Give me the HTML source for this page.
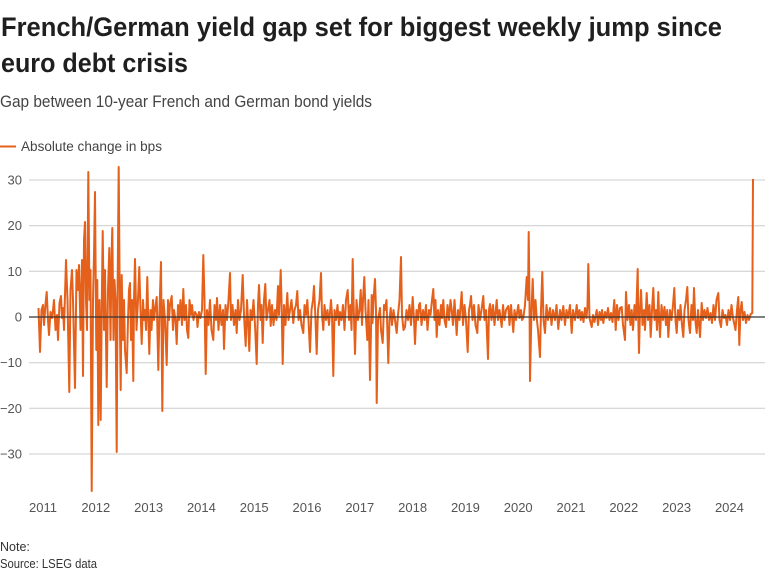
<!DOCTYPE html>
<html>
<head>
<meta charset="utf-8">
<style>
html,body{margin:0;padding:0;background:#fff;}
body{width:765px;height:575px;overflow:hidden;}
svg{display:block;}
text{font-family:"Liberation Sans",sans-serif;}
</style>
</head>
<body>
<svg width="765" height="575" viewBox="0 0 765 575" xmlns="http://www.w3.org/2000/svg">
<rect width="765" height="575" fill="#fff"/>
<text x="1" y="36" font-size="27" font-weight="bold" fill="#1f1f1f" textLength="721" lengthAdjust="spacingAndGlyphs">French/German yield gap set for biggest weekly jump since</text>
<text x="1" y="72" font-size="27" font-weight="bold" fill="#1f1f1f" textLength="187" lengthAdjust="spacingAndGlyphs">euro debt crisis</text>
<text x="0" y="107" font-size="16.5" fill="#444" textLength="372" lengthAdjust="spacingAndGlyphs">Gap between 10-year French and German bond yields</text>
<line x1="0" y1="146.5" x2="16" y2="146.5" stroke="#e5601a" stroke-width="2"/>
<text x="21" y="151" font-size="13.5" fill="#444" textLength="141" lengthAdjust="spacingAndGlyphs">Absolute change in bps</text>

<g stroke="#cccccc" stroke-width="1">
<line x1="29" y1="180" x2="765" y2="180"/>
<line x1="29" y1="225.7" x2="765" y2="225.7"/>
<line x1="29" y1="271.3" x2="765" y2="271.3"/>
<line x1="29" y1="362.7" x2="765" y2="362.7"/>
<line x1="29" y1="408.3" x2="765" y2="408.3"/>
<line x1="29" y1="454" x2="765" y2="454"/>
</g>
<g font-size="13" fill="#555" text-anchor="end">
<text x="22" y="184.5">30</text>
<text x="22" y="230.2">20</text>
<text x="22" y="275.8">10</text>
<text x="22" y="321.5">0</text>
<text x="22" y="367.2">−10</text>
<text x="22" y="412.8">−20</text>
<text x="22" y="458.5">−30</text>
</g>
<g font-size="13" fill="#555" text-anchor="middle">
<text x="43" y="512">2011</text>
<text x="95.8" y="512">2012</text>
<text x="148.6" y="512">2013</text>
<text x="201.4" y="512">2014</text>
<text x="254.2" y="512">2015</text>
<text x="307" y="512">2016</text>
<text x="359.8" y="512">2017</text>
<text x="412.6" y="512">2018</text>
<text x="465.4" y="512">2019</text>
<text x="518.2" y="512">2020</text>
<text x="571" y="512">2021</text>
<text x="623.8" y="512">2022</text>
<text x="676.6" y="512">2023</text>
<text x="729.4" y="512">2024</text>
</g>

<polyline fill="none" stroke="#e5601a" stroke-width="2" stroke-linejoin="round" points="
38.5,308 40,352 41.5,310 43,305 44,325 45.5,304 46.7,292 48,320 49,335 50.5,312 52,318 53,310 54,300 55.5,330 57,315 58,340 59.5,303 61,296 62,318 63,308 64,330 66,260 67.5,300 69.3,392 70.5,290 72,270 73,300 75,388 76.5,270 78,290 79,265 80.5,330 82,260 83,376 84,240 85,222 86,300 87,330 88.3,172 89.5,300 90.5,270 91.7,491 93,300 94,255 95,192 96.3,350 97.3,280 98.3,425 99.5,300 100.7,420 101.7,310 102.7,231 104,330 105,270 106.7,387 108,290 109.3,248 110.5,340 111.5,260 112.3,228 113.5,340 114.5,280 115.5,300 116.7,452 117.5,300 118.7,167 120,330 120.7,390 121.7,275 123,340 124,300 125,350 126.7,373 128,320 129,290 130,283 131,340 132,300 133.3,381 134,300 135,259 136.5,330 138,300 139.3,267 140.5,310 141.7,344 143,300 144,320 145,310 146,330 147.3,277 148.3,320 149.3,354 150.5,310 151.5,330 153,300 154,320 155,310 156.7,297 158.3,370 159.5,310 161,262 162.3,411 163.5,300 165,320 166.7,365 168,300 169,320 170,305 171.7,296 173,330 174,310 175.5,320 176.7,344 178,305 179,320 180.5,300 182,325 183.3,289 184.5,320 186,305 187,330 188.3,338 189.5,300 191,315 192,305 193.5,320 195,312 196.7,315 197.5,327 199,312 200.5,318 202,310 203.3,255 204.5,300 205.7,374
207,310 208.5,325 210,300 211.5,330 213.3,340 214.5,305 216,320 217,298 218.5,330 220,305 221.5,325 223,310 224,349 225.5,305 227,320 228.5,300 230,273 231,320 232.5,305 234,325 235.5,310 236.7,333 238,300 239.5,320 241,310 242.7,275 244,315 245.7,346 247,300 248,320 249.3,351 250.5,310 252,320 253.5,300 255,325 256.7,364 258,305 259,285 260.5,320 261.5,305 262.7,343 264,300 265.3,284 266.5,320 268,310 269.5,300 270.7,326 272,305 273.5,325 275,310 276.5,320 278,286 279,315 280.7,270 281.5,300 282.7,364 284,305 285.5,325 287.3,293 288.5,320 290,310 291.5,300 293.3,323 294.5,310 296,305 297.3,291 298.5,320 300,310 301.5,325 303.3,333 304.5,305 306,315 307.3,300 308.5,320 310,352 311.5,310 313,300 314,286 315.5,320 316.7,354 318,310 319.5,300 321,273 322,315 323.3,330 324.5,305 326,320 327.5,310 329,325 331,300 332,315 333.3,376 334.5,310 336,320 337.5,305 339,325 340,312 341.5,320 343,305 344.5,330 346,300 347.7,290 349,320 350.5,305 351.5,330 352.7,259 353.5,300 355,354 356.5,300 358,320 359.5,310 360.7,290 362,325 363,300 364.3,277 365.5,310 367.3,340 368.5,300 370,380 371.7,295 372.5,323 373.5,300 375,279 376,310 376.7,403 378,320 380,308 381,330 382.7,343 384,305 385,310 386.5,300 388.3,363 389.5,320 390.7,308 392,325 393.5,310 395,320 396.7,333
398,315 399.5,300 401,257 402,315 403.5,330 405,327 406.5,310 408,320 409.5,305 411,325 412.7,297 414,320 415,344 416.5,310 418,320 419,305 420,303 421.5,325 423,310 424.5,320 426,305 427.5,330 429,310 430.5,315 432,300 433.3,289 434.5,320 435.5,300 436.7,337 438,310 439.5,325 441,305 442,318 443.3,300 444.5,320 446,327 447.5,305 449,320 450.5,300 451.7,310 453,325 454.5,300 456.7,335 458,310 459.5,320 461.7,292 463,325 464.5,305 466,320 467.7,352 469,310 470,305 471,296 472.5,320 474,305 475.5,325 477.3,333 478.5,305 480,320 481.5,310 483.3,296 484.5,320 486,310 488,359 489,310 490,304 491.5,320 493,305 494.5,325 496.7,300 498,320 499.5,310 501.7,327 503,305 504.5,320 506,310 508.3,306 509.5,325 511,305 513.3,332 514.5,310 516,320 518.3,305 519.5,318 521,310 522,320 523.3,318 525,305 526.7,277 528,300 528.7,232 529.5,300 530,381 531.5,310 532.7,279 534,320 535.5,300 536.7,318 538,330 540,357 541,310 542.3,272 543.5,320 545,333 546.5,305 548,320 550,308 551.5,325 553,310 555,320 556.5,305 558.3,329 560,310 561.5,320 563.3,306 565,325 566.5,310 568,318 570,305 571.7,333 573,310 575,320 576.7,305 578,318 579.5,310 580.7,320 582,312 583.5,322 585,308 586.5,318 587.5,305 588.3,264 589.5,318 591.7,327
593,315 594.5,322 596.7,310 598,325 599.5,312 601,320 602,310 603.3,323 605,312 606.5,318 608,308 609.5,320 611,313 612.5,322 614.3,300 615.7,330 617,305 618.5,320 620,308 621.7,307 623,325 625,340 626,292 627.5,320 629,305 630.5,325 631.7,310 633,330 634.5,305 636,320 637.7,269 638.3,320 639,353 640,310 641,290 642.5,325 644,310 645,330 646.7,293 648,320 649.5,305 650.7,337 652,310 653.3,288 654.5,320 656,310 657,330 658.3,292 659.2,320 660,337 661.5,305 663,320 664.5,307 666,325 667.2,310 668.3,337 670,310 671.5,320 673,305 674.3,288 675.5,320 676.7,333 678,310 679.5,320 680.5,305 682,325 683.3,337 684.5,310 686,300 687.3,287 688.5,320 690,333 691.5,305 693,320 694,288 695.3,320 696.7,333 698,310 700,337 701.7,303 703,320 704.5,310 706,318 707.5,308 709,320 710.5,313 712,323 713.5,305 715,320 716.5,300 718.3,293 719.5,320 721,327 722.5,310 724,318 725.5,315 727,325 728.5,310 730,320 731.5,305 733,318 734.5,325 735.5,330 737,310 738.3,297 739.3,345 740.5,310 741.7,302 743,320 744.5,312 746,323 747.5,315 749,320 750.7,314 752.3,313 753,179"/>

<line x1="29" y1="317" x2="765" y2="317" stroke="#333" stroke-width="1.2"/>

<text x="0" y="551" font-size="12.5" fill="#333">Note:</text>
<text x="0" y="568" font-size="12.5" fill="#333" textLength="97" lengthAdjust="spacingAndGlyphs">Source: LSEG data</text>
</svg>
</body>
</html>
